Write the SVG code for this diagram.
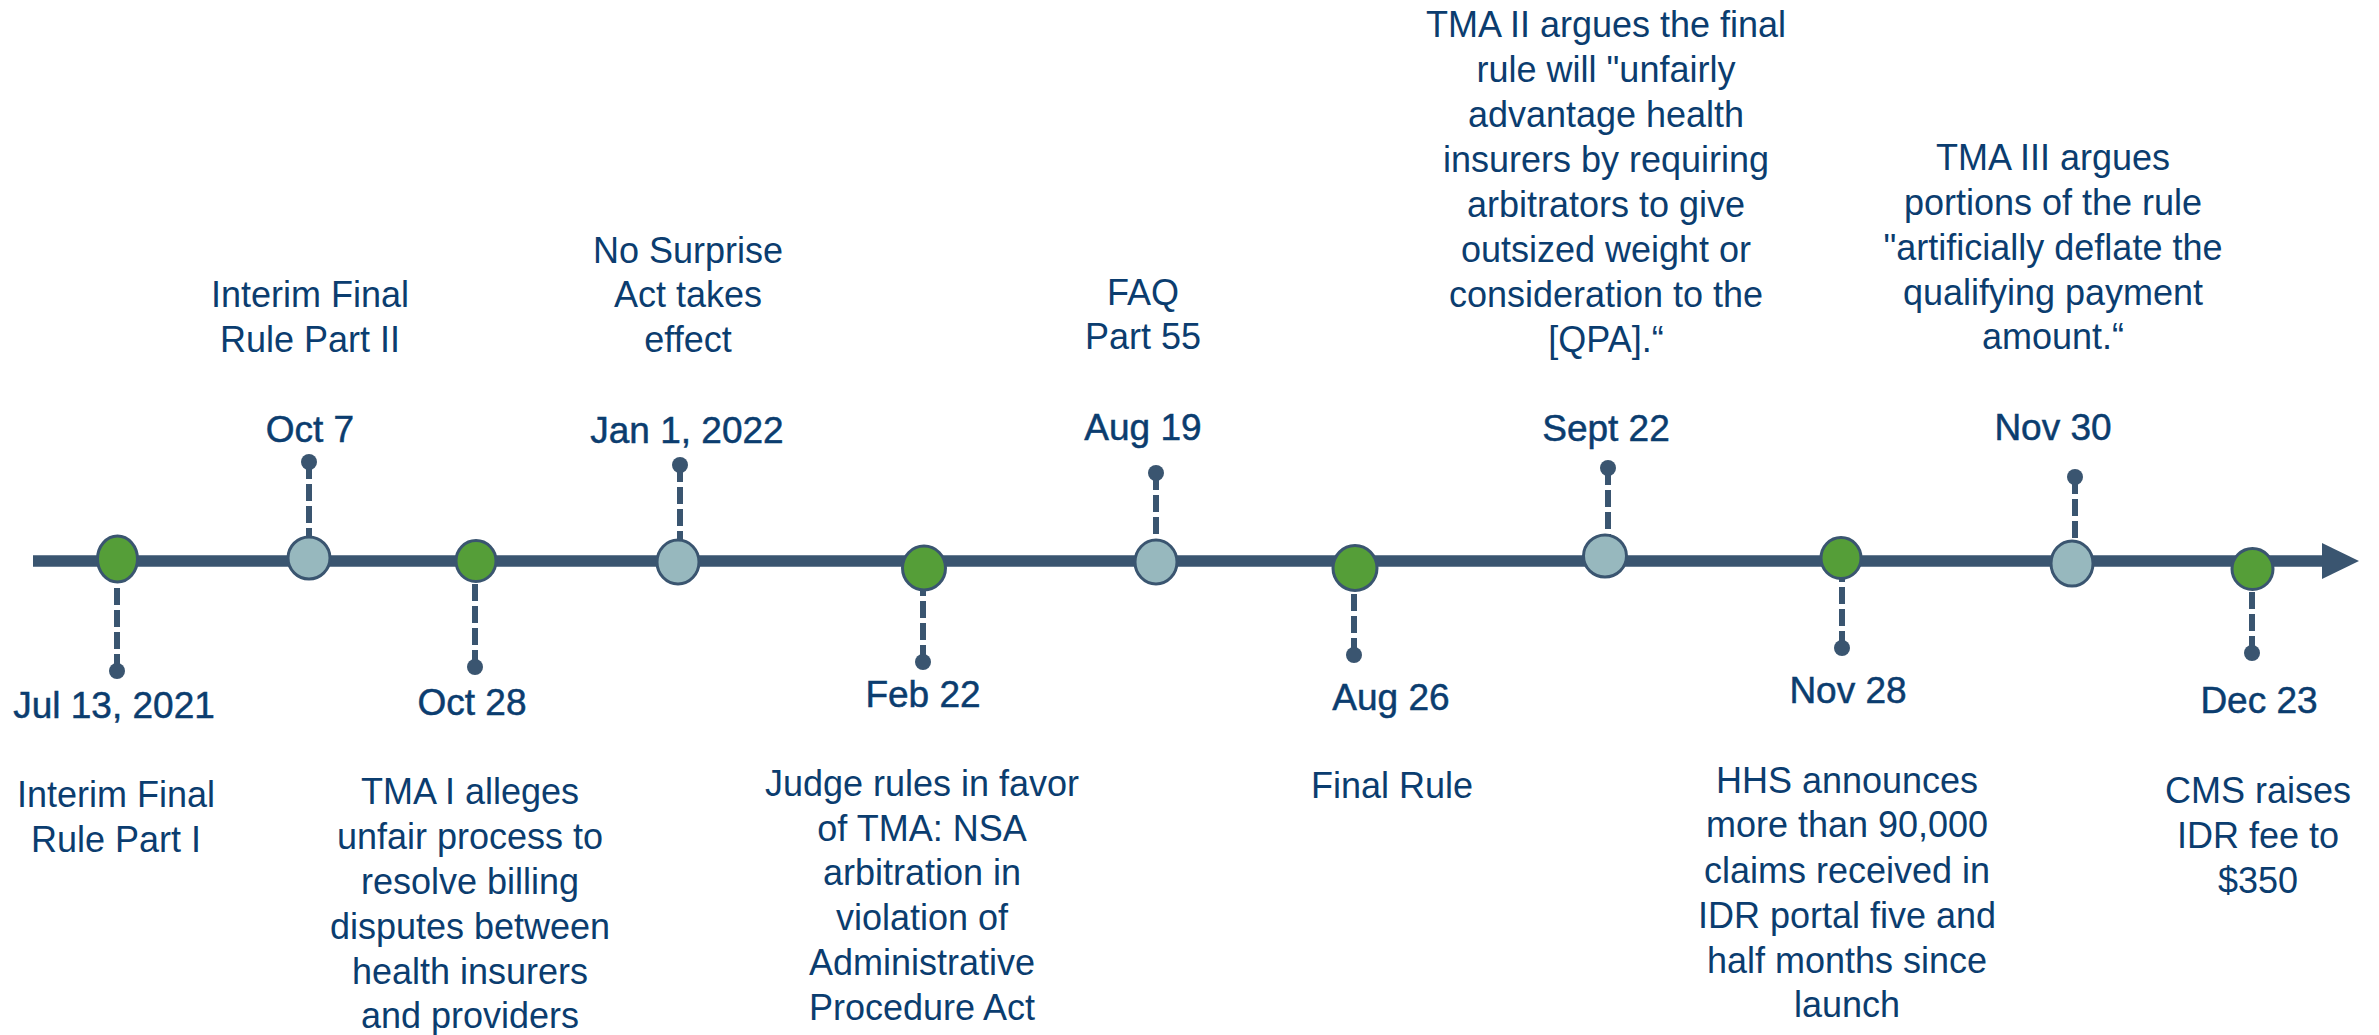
<svg xmlns="http://www.w3.org/2000/svg" width="2379" height="1035" viewBox="0 0 2379 1035">
  <style>
    .axis { stroke: #3A5570; stroke-width: 11.5; fill: none; }
    .stem { stroke: #3A5570; stroke-width: 6; stroke-dasharray: 17 5; fill: none; }
    .dot { fill: #3A5570; }
    .ev-major { fill: #559E38; stroke: #3A5570; stroke-width: 3; }
    .ev-minor { fill: #97B8BE; stroke: #3A5570; stroke-width: 3; }
    .date { font-family: "Liberation Sans", Arial, sans-serif; font-size: 37px; fill: #0B3D6F; stroke: #0B3D6F; stroke-width: 0.5; text-anchor: middle; }
    .desc { font-family: "Liberation Sans", Arial, sans-serif; font-size: 36px; fill: #0B3D6F; text-anchor: middle; }
  </style>
  <rect width="2379" height="1035" fill="#ffffff"/>

  <!-- timeline axis and dashed leader lines -->
  <g id="connectors">
    <line class="axis" x1="33" y1="561" x2="2324" y2="561"/>
    <polygon fill="#3A5570" points="2322,543 2359,561 2322,579"/>
    <line class="stem" x1="117" y1="671" x2="117" y2="582"/>
    <line class="stem" x1="309" y1="462" x2="309" y2="537"/>
    <line class="stem" x1="475" y1="667" x2="475" y2="581"/>
    <line class="stem" x1="680" y1="465" x2="680" y2="540"/>
    <line class="stem" x1="923" y1="662" x2="923" y2="590"/>
    <line class="stem" x1="1156" y1="473" x2="1156" y2="540"/>
    <line class="stem" x1="1354" y1="655" x2="1354" y2="590"/>
    <line class="stem" x1="1608" y1="468" x2="1608" y2="535"/>
    <line class="stem" x1="1842" y1="648" x2="1842" y2="578"/>
    <line class="stem" x1="2075" y1="477" x2="2075" y2="541"/>
    <line class="stem" x1="2252" y1="653" x2="2252" y2="590"/>
  </g>

  <g id="ev-jul13">
    <ellipse class="ev-major" cx="117.5" cy="559" rx="20" ry="23"/>
    <circle class="dot" cx="117" cy="671" r="8"/>
    <text class="date" x="114" y="718">Jul 13, 2021</text>
    <text class="desc" x="116" y="807">Interim Final</text>
    <text class="desc" x="116" y="852">Rule Part I</text>
  </g>

  <g id="ev-oct7">
    <ellipse class="ev-minor" cx="309" cy="558" rx="21" ry="21"/>
    <circle class="dot" cx="309" cy="462" r="8"/>
    <text class="date" x="310" y="442">Oct 7</text>
    <text class="desc" x="310" y="307">Interim Final</text>
    <text class="desc" x="310" y="352">Rule Part II</text>
  </g>

  <g id="ev-oct28">
    <ellipse class="ev-major" cx="476" cy="561" rx="20" ry="20.5"/>
    <circle class="dot" cx="475" cy="667" r="8"/>
    <text class="date" x="472" y="715">Oct 28</text>
    <text class="desc" x="470" y="804">TMA I alleges</text>
    <text class="desc" x="470" y="849">unfair process to</text>
    <text class="desc" x="470" y="894">resolve billing</text>
    <text class="desc" x="470" y="939">disputes between</text>
    <text class="desc" x="470" y="984">health insurers</text>
    <text class="desc" x="470" y="1028">and providers</text>
  </g>

  <g id="ev-jan1">
    <ellipse class="ev-minor" cx="678" cy="562" rx="21" ry="22"/>
    <circle class="dot" cx="680" cy="465" r="8"/>
    <text class="date" x="687" y="443">Jan 1, 2022</text>
    <text class="desc" x="688" y="263">No Surprise</text>
    <text class="desc" x="688" y="307">Act takes</text>
    <text class="desc" x="688" y="352">effect</text>
  </g>

  <g id="ev-feb22">
    <ellipse class="ev-major" cx="924" cy="568" rx="21.5" ry="22"/>
    <circle class="dot" cx="923" cy="662" r="8"/>
    <text class="date" x="923" y="707">Feb 22</text>
    <text class="desc" x="922" y="796">Judge rules in favor</text>
    <text class="desc" x="922" y="841">of TMA: NSA</text>
    <text class="desc" x="922" y="885">arbitration in</text>
    <text class="desc" x="922" y="930">violation of</text>
    <text class="desc" x="922" y="975">Administrative</text>
    <text class="desc" x="922" y="1020">Procedure Act</text>
  </g>

  <g id="ev-aug19">
    <ellipse class="ev-minor" cx="1156" cy="562" rx="21" ry="22"/>
    <circle class="dot" cx="1156" cy="473" r="8"/>
    <text class="date" x="1143" y="440">Aug 19</text>
    <text class="desc" x="1143" y="305">FAQ</text>
    <text class="desc" x="1143" y="349">Part 55</text>
  </g>

  <g id="ev-aug26">
    <ellipse class="ev-major" cx="1355" cy="568" rx="22" ry="22.5"/>
    <circle class="dot" cx="1354" cy="655" r="8"/>
    <text class="date" x="1391" y="710">Aug 26</text>
    <text class="desc" x="1392" y="798">Final Rule</text>
  </g>

  <g id="ev-sept22">
    <ellipse class="ev-minor" cx="1605" cy="556" rx="21.5" ry="21"/>
    <circle class="dot" cx="1608" cy="468" r="8"/>
    <text class="date" x="1606" y="441">Sept 22</text>
    <text class="desc" x="1606" y="37">TMA II argues the final</text>
    <text class="desc" x="1606" y="82">rule will "unfairly</text>
    <text class="desc" x="1606" y="127">advantage health</text>
    <text class="desc" x="1606" y="172">insurers by requiring</text>
    <text class="desc" x="1606" y="217">arbitrators to give</text>
    <text class="desc" x="1606" y="262">outsized weight or</text>
    <text class="desc" x="1606" y="307">consideration to the</text>
    <text class="desc" x="1606" y="352">[QPA].“</text>
  </g>

  <g id="ev-nov28">
    <ellipse class="ev-major" cx="1841" cy="558" rx="20" ry="20.5"/>
    <circle class="dot" cx="1842" cy="648" r="8"/>
    <text class="date" x="1848" y="703">Nov 28</text>
    <text class="desc" x="1847" y="793">HHS announces</text>
    <text class="desc" x="1847" y="837">more than 90,000</text>
    <text class="desc" x="1847" y="883">claims received in</text>
    <text class="desc" x="1847" y="928">IDR portal five and</text>
    <text class="desc" x="1847" y="973">half months since</text>
    <text class="desc" x="1847" y="1017">launch</text>
  </g>

  <g id="ev-nov30">
    <ellipse class="ev-minor" cx="2072" cy="563.5" rx="21" ry="22.5"/>
    <circle class="dot" cx="2075" cy="477" r="8"/>
    <text class="date" x="2053" y="440">Nov 30</text>
    <text class="desc" x="2053" y="170">TMA III argues</text>
    <text class="desc" x="2053" y="215">portions of the rule</text>
    <text class="desc" x="2053" y="260">"artificially deflate the</text>
    <text class="desc" x="2053" y="305">qualifying payment</text>
    <text class="desc" x="2053" y="349">amount.“</text>
  </g>

  <g id="ev-dec23">
    <ellipse class="ev-major" cx="2252.5" cy="569" rx="20.5" ry="20.5"/>
    <circle class="dot" cx="2252" cy="653" r="8"/>
    <text class="date" x="2259" y="713">Dec 23</text>
    <text class="desc" x="2258" y="803">CMS raises</text>
    <text class="desc" x="2258" y="848">IDR fee to</text>
    <text class="desc" x="2258" y="893">$350</text>
  </g>
</svg>
